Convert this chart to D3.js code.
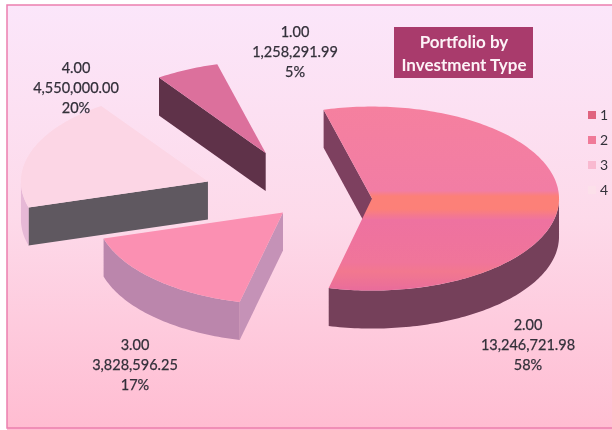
<!DOCTYPE html>
<html>
<head>
<meta charset="utf-8">
<script src="https://cdn.jsdelivr.net/npm/d3@7"></script>
<style>
    html, body { margin: 0; padding: 0; background: #fff; }
    svg { display: block; }
    text { font-family: Lato, "Open Sans", sans-serif; }
</style>
</head>
<body>
<svg id="chart"></svg>
<script>
const width = 612;
const height = 430;

// data
const categories = ["1", "2", "3", "4"];
const labels = ["1.00", "2.00", "3.00", "4.00"];
const amounts = [1258291.99, 13246721.98, 3828596.25, 4550000.00];
const amountLabels = ["1,258,291.99", "13,246,721.98", "3,828,596.25", "4,550,000.00"];
const percents = ["5%", "58%", "17%", "20%"];
const titleLines = ["Portfolio by", "Investment Type"];

// look of each slice
const explode = [0.55, 0.337, 0.202, 0.573];
const topColors = ["#dc6f9c", "url(#top2)", "#fb90b2", "#fcd6e5"];
const faceColors = ["#5e3048", "#7d3f5e", "#c592b7", "#5e5860"];
const wallColors = ["#5e3048", "#74405a", "#bb86ac", "#e6b8d6"];
const legendColors = ["#e0637f", "#f07a98", "#f9b9d0", "#fce0ea"];
const labelPos = [[295, 37], [528, 330], [135, 350], [76, 73]];

const cx = 309, cy = 199, rx = 187, ry = 92, depth = 38;

const svg = d3.select("#chart")
    .attr("width", width)
    .attr("height", height);

const defs = svg.append("defs");

const bg = defs.append("linearGradient")
    .attr("id", "bg").attr("x1", 0).attr("y1", 0).attr("x2", 0).attr("y2", 1);
bg.append("stop").attr("offset", "0%").attr("stop-color", "#fbe6fa");
bg.append("stop").attr("offset", "50%").attr("stop-color", "#fddaea");
bg.append("stop").attr("offset", "100%").attr("stop-color", "#ffbcd1");

const top2 = defs.append("linearGradient")
    .attr("id", "top2").attr("gradientUnits", "userSpaceOnUse")
    .attr("x1", 0).attr("y1", 106).attr("x2", 0).attr("y2", 290);
[[0, "#f5809f"], [0.46, "#f27da4"], [0.49, "#fc8078"], [0.56, "#fc8078"], [0.62, "#ee72a0"],
 [0.85, "#f0749a"], [0.9, "#f2788f"], [1, "#e96c9b"]].forEach(s => {
    top2.append("stop").attr("offset", s[0]).attr("stop-color", s[1]);
});

defs.append("filter").attr("id", "soft")
    .append("feGaussianBlur").attr("stdDeviation", 0.5);

svg.append("rect")
    .attr("x", 7).attr("y", 5)
    .attr("width", width - 7).attr("height", height - 5)
    .attr("fill", "url(#bg)");

// frame shows on the left, top and bottom only
svg.append("path")
    .attr("d", line2([[width, 5], [7, 5], [7, 428], [width, 428]]))
    .attr("fill", "none")
    .attr("stroke", "#ec7fae")
    .attr("stroke-width", 1.5);

function line2(pts) {
    return d3.line()(pts);
}

const pie = d3.pie().sort(null)
    .startAngle(-34.8 * Math.PI / 180)
    .endAngle((360 - 34.8) * Math.PI / 180);
const arcs = pie(amounts);

const line = d3.line();

// point on the flattened circle, angle clockwise from up
function project(a, o, drop) {
    return [o[0] + rx * Math.sin(a), o[1] - ry * Math.cos(a) + drop];
}

function sweep(a0, a1, o, drop) {
    const n = Math.max(2, Math.ceil(Math.abs(a1 - a0) / 0.02));
    return d3.range(n + 1).map(i => project(a0 + (a1 - a0) * i / n, o, drop));
}

const pieLayer = svg.append("g").attr("filter", "url(#soft)");

// back slices first, so the nearer ones sit over them
[0, 3, 2, 1].forEach(i => {
    const d = arcs[i];
    const mid = (d.startAngle + d.endAngle) / 2;
    const o = [cx + explode[i] * rx * Math.sin(mid), cy - explode[i] * ry * Math.cos(mid)];

    // cut face along the start edge
    const edge = project(d.startAngle, o, 0);
    pieLayer.append("path")
        .attr("d", line([edge, o, [o[0], o[1] + depth], [edge[0], edge[1] + depth]]) + "Z")
        .attr("fill", faceColors[i]);

    // rim, only the part that faces the viewer
    const a0 = Math.max(d.startAngle, Math.PI / 2);
    const a1 = Math.min(d.endAngle, 3 * Math.PI / 2);
    if (a1 > a0) {
        const rim = sweep(a0, a1, o, 0).concat(sweep(a1, a0, o, depth));
        pieLayer.append("path")
            .attr("d", line(rim) + "Z")
            .attr("fill", wallColors[i]);
    }

    // top of the slice
    pieLayer.append("path")
        .attr("d", line([o].concat(sweep(d.startAngle, d.endAngle, o, 0))) + "Z")
        .attr("fill", topColors[i]);
});

// data labels
const labelLayer = svg.append("g").attr("filter", "url(#soft)");
categories.forEach((c, i) => {
    [labels[i], amountLabels[i], percents[i]].forEach((t, j) => {
        labelLayer.append("text")
            .attr("x", labelPos[i][0])
            .attr("y", labelPos[i][1] + j * 20)
            .attr("text-anchor", "middle")
            .attr("font-size", 14.5)
            .attr("fill", "#33303a")
            .attr("stroke", "#33303a")
            .attr("stroke-width", 0.25)
            .text(t);
    });
});

// title box
const titleLayer = svg.append("g").attr("filter", "url(#soft)");
titleLayer.append("rect")
    .attr("x", 394).attr("y", 27)
    .attr("width", 139).attr("height", 51)
    .attr("fill", "#a93b6c");
titleLines.forEach((t, i) => {
    titleLayer.append("text")
        .attr("x", 464)
        .attr("y", 48 + i * 23)
        .attr("text-anchor", "middle")
        .attr("font-size", 17)
        .attr("font-weight", 700)
        .attr("fill", "#fdf3f7")
        .text(t);
});

// legend
const legendY = d3.scalePoint().domain(categories).range([115, 190]);
const legend = svg.append("g").attr("filter", "url(#soft)");
categories.forEach((c, i) => {
    legend.append("rect")
        .attr("x", 588).attr("y", legendY(c) - 4)
        .attr("width", 8).attr("height", 8)
        .attr("fill", legendColors[i]);
    legend.append("text")
        .attr("x", 600).attr("y", legendY(c) + 5)
        .attr("font-size", 14)
        .attr("fill", "#33303a")
        .text(c);
});
</script>
</body>
</html>
